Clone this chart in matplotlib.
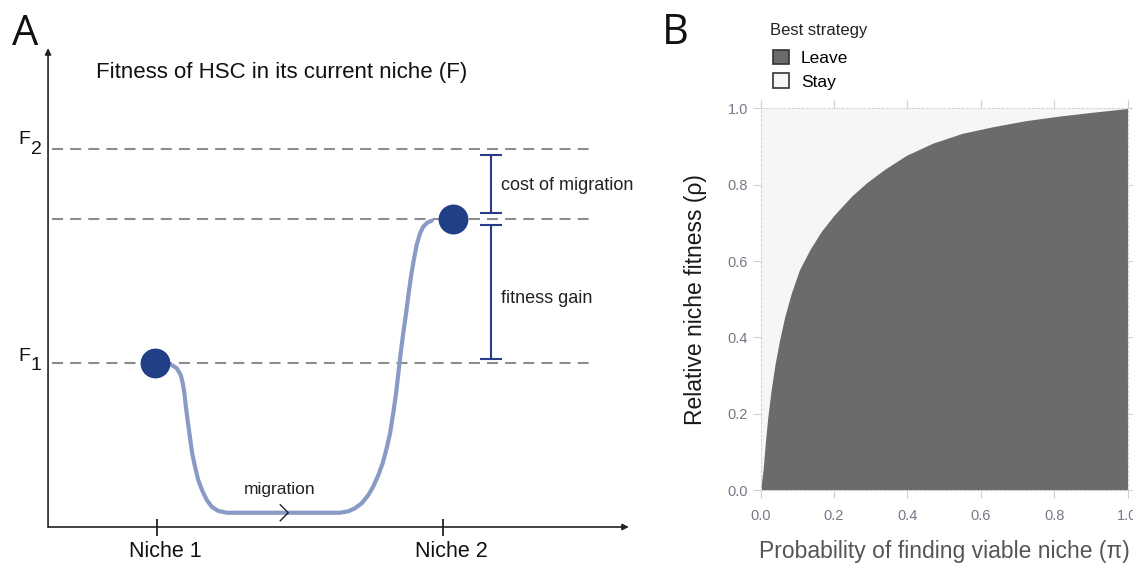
import numpy as np
import matplotlib.pyplot as plt
from matplotlib.patches import Patch

plt.rcParams['font.family'] = ['Liberation Sans', 'DejaVu Sans']

# ---- panel A: schematic fitness landscape (x: niche position, y: fitness)
niche_pos = [1.0, 2.0]
niche_labels = ['Niche 1', 'Niche 2']
f1 = 1.0
f_mid = 1.88
f2 = 2.305
curve_x = [1.051, 1.069, 1.083, 1.090, 1.096, 1.101, 1.107, 1.115, 1.123, 1.133,
           1.144, 1.160, 1.174, 1.191, 1.214, 1.244,
           1.640, 1.669, 1.692, 1.716, 1.739, 1.756, 1.774, 1.789, 1.803, 1.815,
           1.826, 1.836, 1.844, 1.852, 1.861, 1.871, 1.880, 1.889, 1.899, 1.908,
           1.920, 1.931, 1.945, 1.961]
curve_y = [0.988, 0.968, 0.927, 0.876, 0.815, 0.734, 0.652, 0.551, 0.449, 0.368,
           0.287, 0.215, 0.165, 0.124, 0.098, 0.087,
           0.087, 0.096, 0.114, 0.145, 0.195, 0.246, 0.317, 0.388, 0.480, 0.571,
           0.693, 0.815, 0.937, 1.059, 1.181, 1.303, 1.425, 1.537, 1.638, 1.720,
           1.791, 1.831, 1.856, 1.868]
dot_x = [0.993, 2.036]
dot_y = [f1, f_mid]
bar_x = 2.168
cost_lo, cost_hi = 1.916, 2.268
gain_lo, gain_hi = 1.026, 1.841

# ---- panel B: best strategy boundary
pi_vals = [0.0, 0.007, 0.013, 0.020, 0.029, 0.040, 0.052, 0.066, 0.084, 0.106,
           0.134, 0.165, 0.201, 0.249, 0.290, 0.339, 0.397, 0.469, 0.550, 0.632,
           0.722, 0.813, 0.903, 1.0]
rho_vals = [0.0, 0.052, 0.122, 0.192, 0.262, 0.332, 0.393, 0.454, 0.516, 0.577,
            0.629, 0.677, 0.721, 0.771, 0.806, 0.841, 0.877, 0.909, 0.935, 0.952,
            0.968, 0.980, 0.990, 1.0]
ticks = [0.0, 0.2, 0.4, 0.6, 0.8, 1.0]

W, H = 1133, 564
fig = plt.figure(figsize=(W/100, H/100), dpi=100)

ax1 = fig.add_axes([0, 0, 640/W, 1])
ax1.set_xlim(0.451, 2.689)
ax1.set_ylim(-0.2256, 3.2134)
ax1.axis('off')

axcol = '#222222'
ax1.annotate('', xy=(0.619, 2.92), xytext=(0.619, 0), xycoords='data',
             arrowprops=dict(arrowstyle='-|>', color=axcol, lw=1.2, mutation_scale=9,
                             shrinkA=0, shrinkB=0))
ax1.annotate('', xy=(2.65, 0), xytext=(0.619, 0), xycoords='data',
             arrowprops=dict(arrowstyle='-|>', color=axcol, lw=1.2, mutation_scale=9,
                             shrinkA=0, shrinkB=0))
ax1.vlines(niche_pos, -0.055, 0.049, color=axcol, lw=1.3)
for p, lab in zip(niche_pos, niche_labels):
    ax1.text(p + 0.028, -0.149, lab, ha='center', va='center', fontsize=15.5, color='#111')

ax1.hlines([f1, f_mid, f2], 0.633, 2.531, color='#8c8c8c', lw=1.5,
           linestyle=(0, (5.3, 3.4)), zorder=1)
ax1.plot(curve_x, curve_y, color='#8a9ac6', lw=3, solid_capstyle='round',
         solid_joinstyle='round', zorder=2)
ax1.plot(dot_x, dot_y, 'o', ms=21.5, color='#213f87', mec='none', zorder=3)

# migration chevron
ax1.plot([1.431, 1.459, 1.431], [0.136, 0.087, 0.038], color='#222', lw=1.0, zorder=3)
ax1.text(1.430, 0.230, 'migration', ha='center', va='center', fontsize=12.5, color='#222')

bcol = '#2b3d8a'
ax1.vlines(bar_x, cost_lo, cost_hi, color=bcol, lw=1.5, zorder=3)
ax1.vlines(bar_x, gain_lo, gain_hi, color=bcol, lw=1.5, zorder=3)
ax1.hlines([cost_lo, cost_hi, gain_lo, gain_hi], bar_x - 0.037, bar_x + 0.037,
           color=bcol, lw=1.5, zorder=3)
ax1.text(2.203, 2.085, 'cost of migration', ha='left', va='center', fontsize=13, color='#222')
ax1.text(2.203, 1.395, 'fitness gain', ha='left', va='center', fontsize=13, color='#222')

ax1.text(0.787, 2.774, 'Fitness of HSC in its current niche (F)', ha='left', va='center',
         fontsize=16, color='#111')
ax1.text(0.514, 2.360, 'F', ha='left', va='center', fontsize=14, color='#111')
ax1.text(0.559, 2.300, '2', ha='left', va='center', fontsize=14, color='#111')
ax1.text(0.514, 1.037, 'F', ha='left', va='center', fontsize=14, color='#111')
ax1.text(0.559, 0.985, '1', ha='left', va='center', fontsize=14, color='#111')

fig.text(25/W, 1 - 34/H, 'A', ha='center', va='center', fontsize=30,
         family=['Open Sans', 'DejaVu Sans'], color='#111')
fig.text(675/W, 1 - 33/H, 'B', ha='center', va='center', fontsize=30,
         family=['Open Sans', 'DejaVu Sans'], color='#111')

# ---- panel B
leave_col = '#6a6b6b'
stay_col = '#f6f6f6'
ax2 = fig.add_axes([760.5/W, 1 - 490/H, 367/W, 381.5/H])
ax2.set_facecolor(stay_col)
ax2.fill_between(pi_vals, 0, rho_vals, color=leave_col, lw=0)
ax2.set_xlim(0, 1)
ax2.set_ylim(0, 1)
ax2.set_xticks(ticks)
ax2.set_yticks(ticks)
ax2.set_xticklabels([f'{t:.1f}' for t in ticks])
ax2.set_yticklabels([f'{t:.1f}' for t in ticks])
ax2.tick_params(axis='both', which='both', direction='out', length=6, width=0.8,
                color='#cfcfcf', labelcolor='#7d7585', labelsize=10.5,
                top=True, right=True)
ax2.tick_params(axis='x', pad=8)
ax2.tick_params(axis='y', pad=3)
for s in ax2.spines.values():
    s.set_color('#d6d6d6')
    s.set_linewidth(0.8)
    s.set_linestyle((0, (2, 2)))
ax2.set_xlabel('Probability of finding viable niche (\u03c0)', fontsize=16.5,
               color='#555555', labelpad=12)
ax2.set_ylabel('Relative niche fitness (\u03c1)', fontsize=16.5, color='#1a1a1a',
               labelpad=15)

fig.text(770/W, 1 - 30/H, 'Best strategy', ha='left', va='center', fontsize=12,
         color='#222')
handles = [Patch(facecolor=leave_col, edgecolor='#333', lw=1.2, label='Leave'),
           Patch(facecolor=stay_col, edgecolor='#333', lw=1.2, label='Stay')]
leg = fig.legend(handles=handles, loc='upper left',
                 bbox_to_anchor=(773/W, 1 - 50/H), frameon=False, fontsize=12.5,
                 handlelength=0.9, handleheight=0.9,
                 handletextpad=0.7, labelspacing=0.42, borderpad=0, borderaxespad=0)

fig.savefig('out.png', dpi=100)
